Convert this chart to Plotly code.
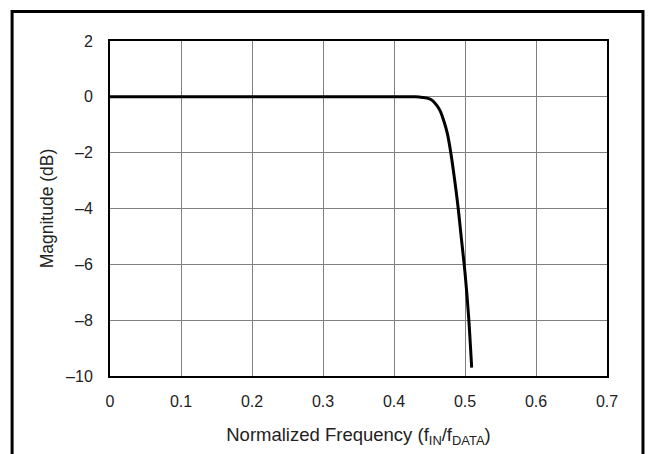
import plotly.graph_objects as go

# normalized frequency (fIN/fDATA) and magnitude response (dB)
freq = [0.0, 0.40, 0.43, 0.44, 0.45, 0.455, 0.46, 0.465, 0.47, 0.475,
        0.48, 0.485, 0.49, 0.495, 0.50, 0.505, 0.5094]
mag = [0.0, 0.0, 0.0, -0.02, -0.07, -0.15, -0.3, -0.5, -0.85, -1.3,
       -2.0, -2.9, -3.9, -5.1, -6.3, -7.85, -9.7]

x_ticks = [0, 0.1, 0.2, 0.3, 0.4, 0.5, 0.6, 0.7]
x_labels = ['0', '0.1', '0.2', '0.3', '0.4', '0.5', '0.6', '0.7']
y_ticks = [2, 0, -2, -4, -6, -8, -10]
y_labels = ['2', '0', '–2', '–4', '–6', '–8', '–10']

font = 'Liberation Sans, Arial, sans-serif'

fig = go.Figure()
fig.add_trace(go.Scatter(
    x=freq, y=mag, mode='lines', line_shape='spline',
    line=dict(color='black', width=3), showlegend=False,
))

fig.update_layout(
    width=649, height=454,
    margin=dict(l=110, r=42, t=41, b=78),
    paper_bgcolor='white', plot_bgcolor='white',
    font=dict(family=font, color='#222', size=16),
    xaxis=dict(
        range=[0, 0.7], tickvals=x_ticks, ticktext=x_labels,
        showgrid=True, gridcolor='#808080', gridwidth=1,
        showline=True, linecolor='black', linewidth=2, mirror=True,
        zeroline=False, ticks='', tickfont=dict(size=16), ticklabelstandoff=10,
        title=dict(text='Normalized Frequency (f<sub>IN</sub>/f<sub>DATA</sub>)',
                   font=dict(size=18.5), standoff=19),
    ),
    yaxis=dict(
        range=[-10, 2], tickvals=y_ticks, ticktext=y_labels,
        showgrid=True, gridcolor='#808080', gridwidth=1,
        showline=True, linecolor='black', linewidth=2, mirror=True,
        zeroline=False, ticks='', tickfont=dict(size=16), ticklabelstandoff=12,
        title=dict(text='Magnitude (dB)', font=dict(size=17.5), standoff=8),
    ),
    shapes=[dict(
        type='rect', xref='paper', yref='paper',
        x0=-0.197, x1=1.0724, y0=-0.4, y1=1.088,
        line=dict(color='black', width=3), layer='above',
    )],
)

fig.write_html('out.html', config={'displayModeBar': False},
               post_script="document.body.style.margin='0px';")
